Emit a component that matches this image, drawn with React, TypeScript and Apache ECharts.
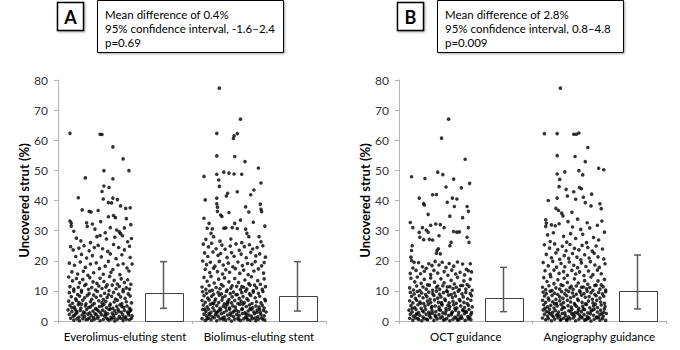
import React, { useEffect, useRef } from "react";
import * as echarts from "echarts";

// ---------- DATA ----------
const categoriesA = ["Everolimus-eluting stent", "Biolimus-eluting stent"];
const categoriesB = ["OCT guidance", "Angiography guidance"];
const yMin = 0;
const yMax = 80;
const yInterval = 10;
const yAxisTitle = "Uncovered strut (%)";

const statsA = ["Mean difference of 0.4%", "95% confidence interval, -1.6\u20132.4", "p=0.69"];
const statsB = ["Mean difference of 2.8%", "95% confidence interval, 0.8\u20134.8", "p=0.009"];

// bar value, error low, error high (per category)
const barA = [9.2, 8.4];
const errLowA = [4.2, 3.3];
const errHighA = [19.7, 19.7];
const barB = [7.7, 10.1];
const errLowB = [3.1, 4.0];
const errHighB = [17.8, 21.9];

// scatter points: [horizontal jitter fraction within the dot column, uncovered strut %]
const everolimusPts: [number, number][] = [
  [0.03,62.3],[0.50,62.0],[0.53,61.9],[0.70,57.8],[0.86,53.8],[0.56,49.9],[0.95,49.9],[0.70,47.2],[0.27,47.5],[0.56,44.8],[0.64,44.3],[0.53,43.0],[0.16,40.9],[0.55,40.5],[0.70,40.8],[0.77,40.3],[0.63,39.3],[0.68,39.2],[0.82,38.2],[0.90,37.4],[0.97,37.6],[0.22,36.9],[0.33,36.4],[0.36,36.2],[0.47,36.7],[0.63,34.6],[0.71,35.0],[0.74,34.3],[0.91,34.0],[0.03,33.2],[0.05,32.5],[0.05,31.5],[0.29,32.6],[0.30,31.4],[0.38,32.2],[0.51,33.0],[0.76,30.2],[0.80,29.6],[0.82,29.0],[0.98,32.0],[0.09,29.8],[0.42,30.5],[0.58,29.3],[0.66,31.0],[0.88,30.9],[0.13,27.5],[0.45,28.0],[0.50,28.4],[0.60,27.2],[0.73,27.8],[0.85,28.3],[0.99,27.4],[0.20,26.6],[0.35,26.0],[0.93,26.3],
  [0.04,24.7],[0.08,23.6],[0.17,24.2],[0.25,25.0],[0.33,23.3],[0.41,24.4],[0.47,25.1],[0.54,24.0],[0.62,23.1],[0.71,25.4],[0.79,24.4],[0.88,23.6],[0.96,24.8],[0.12,21.4],[0.21,22.1],[0.29,20.9],[0.38,21.7],[0.52,21.3],[0.66,22.3],[0.75,20.7],[0.84,22.0],[0.97,21.1],[0.02,19.2],[0.10,18.5],[0.19,19.6],[0.27,17.8],[0.35,18.9],[0.44,19.3],[0.49,17.4],[0.58,18.2],[0.63,19.8],[0.70,17.1],[0.78,18.6],[0.86,19.0],[0.92,17.6],[1.00,18.9],[0.06,16.3],[0.15,15.6],[0.24,16.5],[0.31,15.2],[0.40,16.0],[0.55,15.5],[0.67,16.2],[0.81,15.4],[0.95,16.6],
  [0.01,14.6],[0.07,13.3],[0.13,14.1],[0.18,12.7],[0.23,13.8],[0.28,12.2],[0.34,14.4],[0.39,13.0],[0.45,12.5],[0.50,14.2],[0.56,13.1],[0.61,12.0],[0.65,14.8],[0.72,13.5],[0.77,12.3],[0.83,14.0],[0.88,12.8],[0.93,13.7],[0.98,12.2],[0.03,11.4],[0.09,10.6],[0.16,11.2],[0.21,10.2],[0.26,11.8],[0.32,10.5],[0.37,11.1],[0.43,10.3],[0.48,11.6],[0.53,10.8],[0.59,11.3],[0.64,10.1],[0.69,11.9],[0.75,10.7],[0.80,11.5],[0.86,10.4],[0.91,11.0],[0.96,10.6],
  [0.02,9.4],[0.09,9.9],[0.15,8.8],[0.21,9.6],[0.33,9.1],[0.40,8.6],[0.46,9.8],[0.57,9.2],[0.63,8.7],[0.71,9.5],[0.79,8.9],[0.86,9.7],[0.94,9.0],
  [0.05,8.1],[0.12,7.4],[0.18,8.3],[0.26,7.7],[0.30,8.5],[0.37,7.2],[0.44,7.9],[0.51,8.4],[0.55,7.1],[0.61,7.8],[0.68,8.2],[0.74,7.3],[0.82,8.0],[0.89,7.5],[0.97,8.3],
  [0.01,6.6],[0.07,5.9],[0.13,6.8],[0.17,6.1],[0.23,6.9],[0.28,5.7],[0.35,6.4],[0.41,5.8],[0.48,6.7],[0.53,6.0],[0.59,6.5],[0.66,5.6],[0.72,6.3],[0.77,6.9],[0.84,5.8],[0.91,6.4],[0.99,6.0],
  [0.03,5.2],[0.10,4.6],[0.16,5.4],[0.20,4.3],[0.27,5.0],[0.32,4.5],[0.38,5.3],[0.43,4.1],[0.49,4.8],[0.56,5.5],[0.60,4.4],[0.65,5.1],[0.70,4.2],[0.76,4.9],[0.81,5.4],[0.87,4.5],[0.92,5.0],[0.96,4.2],
  [0.00,3.7],[0.06,3.1],[0.11,3.9],[0.14,2.8],[0.19,3.5],[0.24,3.0],[0.29,3.8],[0.34,2.7],[0.39,3.3],[0.45,3.9],[0.50,2.9],[0.54,3.6],[0.58,3.0],[0.64,3.8],[0.69,2.6],[0.73,3.4],[0.78,3.9],[0.83,2.9],[0.88,3.5],[0.93,3.0],[0.98,3.7],
  [0.02,2.2],[0.08,1.6],[0.12,2.4],[0.17,1.3],[0.22,2.0],[0.26,1.5],[0.31,2.3],[0.36,1.8],[0.42,2.5],[0.47,1.4],[0.52,2.1],[0.57,1.7],[0.62,2.4],[0.67,1.2],[0.71,1.9],[0.75,2.5],[0.80,1.5],[0.85,2.2],[0.90,1.4],[0.95,2.0],[1.00,1.7],
  [0.04,0.9],[0.09,0.3],[0.14,0.7],[0.18,0.1],[0.23,0.8],[0.28,0.4],[0.33,1.0],[0.37,0.2],[0.41,0.6],[0.46,0.9],[0.50,0.1],[0.55,0.5],[0.60,1.0],[0.64,0.3],[0.68,0.7],[0.73,0.0],[0.77,0.6],[0.82,0.9],[0.86,0.2],[0.91,0.6],[0.96,0.4],[0.99,0.9],
  [0.06,4.4],[0.13,3.3],[0.21,5.6],[0.26,2.7],[0.35,4.7],[0.40,1.2],[0.47,3.4],[0.53,5.0],[0.59,2.2],[0.66,4.0],[0.72,1.1],[0.79,3.2],[0.84,4.8],[0.94,2.6],[0.10,1.9],[0.31,0.6],[0.44,2.1],[0.62,0.6],[0.87,1.2],[0.97,3.3],
];

const biolimusPts: [number, number][] = [
  [0.27,77.3],[0.60,67.0],[0.23,62.3],[0.50,61.5],[0.55,62.2],[0.49,60.6],[0.23,54.8],[0.51,54.6],[0.67,52.9],[0.88,50.8],[0.03,48.0],[0.23,48.7],[0.34,49.4],[0.42,49.1],[0.50,48.8],[0.62,48.7],[0.26,46.8],[0.27,44.7],[0.40,42.4],[0.38,41.5],[0.92,45.8],[0.81,43.5],[0.76,41.9],[0.55,42.9],[0.05,40.2],[0.23,40.8],[0.23,38.9],[0.24,37.8],[0.24,36.4],[0.29,35.2],[0.31,34.7],[0.42,36.0],[0.68,37.9],[0.73,36.2],[0.91,38.8],[0.92,37.1],[0.93,36.3],[0.03,34.1],[0.11,32.4],[0.08,30.8],[0.16,30.6],[0.14,29.1],[0.18,28.0],[0.34,30.8],[0.37,30.9],[0.47,31.0],[0.51,32.4],[0.55,30.7],[0.68,30.5],[0.70,29.1],[0.73,28.0],[0.89,28.0],[0.92,26.3],[0.60,33.5],[0.80,32.8],[0.98,31.5],[0.45,27.2],[0.28,26.5],[0.62,26.0],[0.06,27.1],
  [0.02,25.5],[0.10,24.6],[0.15,25.8],[0.22,24.0],[0.31,25.2],[0.36,23.8],[0.44,24.9],[0.53,25.6],[0.58,23.5],[0.66,24.7],[0.74,25.3],[0.79,23.9],[0.86,24.4],[0.95,25.0],
  [0.04,22.6],[0.09,21.4],[0.17,22.9],[0.25,21.8],[0.29,22.4],[0.39,21.1],[0.46,22.7],[0.50,21.5],[0.61,22.2],[0.69,21.0],[0.76,22.8],[0.84,21.6],[0.90,22.3],[0.99,21.2],
  [0.01,19.9],[0.07,18.7],[0.13,19.5],[0.20,18.2],[0.27,19.8],[0.33,18.6],[0.41,19.2],[0.48,18.0],[0.56,19.6],[0.63,18.4],[0.71,19.1],[0.78,18.8],[0.83,19.7],[0.93,18.3],[0.97,19.4],
  [0.05,17.2],[0.12,16.1],[0.18,17.5],[0.24,16.4],[0.32,15.6],[0.37,17.0],[0.43,16.2],[0.52,17.4],[0.59,15.8],[0.65,16.9],[0.72,15.4],[0.81,16.6],[0.88,17.3],[0.96,15.9],
  [0.03,14.5],[0.08,13.2],[0.14,14.8],[0.19,12.6],[0.26,13.9],[0.30,12.1],[0.35,14.3],[0.42,13.0],[0.47,11.7],[0.51,14.1],[0.57,12.8],[0.62,11.4],[0.67,13.6],[0.73,12.4],[0.77,14.7],[0.82,11.9],[0.87,13.4],[0.91,12.2],[0.97,14.0],[0.00,11.3],[0.06,10.5],[0.11,11.8],[0.16,10.2],[0.22,11.1],[0.28,10.7],[0.33,11.6],[0.39,10.3],[0.45,10.9],[0.54,11.5],[0.60,10.4],[0.65,11.2],[0.70,10.6],[0.75,11.9],[0.80,10.1],[0.85,11.0],[0.94,10.5],[0.99,11.4],
  [0.01,9.7],[0.07,9.2],[0.12,9.9],[0.18,8.9],[0.25,9.5],[0.30,9.0],[0.38,9.8],[0.44,9.1],[0.49,9.6],[0.55,8.8],[0.62,9.4],[0.68,9.9],[0.74,9.0],[0.80,9.6],[0.88,9.2],[0.95,9.8],
  [0.03,8.4],[0.09,7.6],[0.15,8.2],[0.21,7.3],[0.27,8.6],[0.32,7.8],[0.36,8.3],[0.42,7.1],[0.47,8.0],[0.53,8.7],[0.58,7.5],[0.64,8.1],[0.70,7.4],[0.76,8.5],[0.83,7.7],[0.90,8.2],[0.98,7.2],
  [0.00,6.8],[0.05,6.2],[0.11,7.0],[0.16,5.9],[0.20,6.6],[0.26,6.1],[0.31,6.9],[0.35,5.7],[0.40,6.4],[0.46,6.0],[0.51,6.8],[0.56,5.8],[0.61,6.5],[0.66,6.1],[0.72,6.9],[0.78,5.8],[0.85,6.4],[0.92,6.0],[0.99,6.7],
  [0.02,5.3],[0.08,4.7],[0.13,5.5],[0.17,4.4],[0.23,5.1],[0.28,4.2],[0.33,4.9],[0.39,5.4],[0.43,4.3],[0.48,5.0],[0.52,4.6],[0.59,5.5],[0.63,4.1],[0.69,4.8],[0.74,5.3],[0.79,4.4],[0.84,5.0],[0.89,4.6],[0.94,5.2],[0.97,4.3],
  [0.01,3.8],[0.06,3.2],[0.10,3.9],[0.14,2.9],[0.19,3.5],[0.24,3.0],[0.29,3.7],[0.34,2.8],[0.38,3.4],[0.43,3.9],[0.48,2.9],[0.53,3.6],[0.57,3.1],[0.62,3.8],[0.67,2.7],[0.72,3.3],[0.77,3.8],[0.81,3.0],[0.86,3.6],[0.91,2.8],[0.96,3.5],[1.00,3.0],
  [0.03,2.3],[0.07,1.7],[0.11,2.5],[0.16,1.4],[0.21,2.1],[0.25,1.6],[0.30,2.4],[0.35,1.3],[0.40,2.0],[0.44,2.6],[0.49,1.5],[0.54,2.2],[0.58,1.8],[0.63,2.5],[0.68,1.3],[0.73,2.0],[0.77,1.6],[0.82,2.4],[0.87,1.4],[0.92,2.1],[0.97,1.7],
  [0.00,0.8],[0.05,0.2],[0.10,0.9],[0.14,0.4],[0.19,1.1],[0.23,0.1],[0.28,0.7],[0.32,1.0],[0.37,0.3],[0.42,0.8],[0.46,0.0],[0.51,0.6],[0.56,1.0],[0.60,0.2],[0.65,0.7],[0.70,1.1],[0.75,0.3],[0.79,0.8],[0.84,0.1],[0.88,0.6],[0.93,1.0],[0.98,0.3],
  [0.04,4.0],[0.12,2.0],[0.18,5.7],[0.26,3.4],[0.33,0.5],[0.37,4.5],[0.45,1.9],[0.50,3.3],[0.57,0.5],[0.64,5.6],[0.69,2.3],[0.75,4.1],[0.83,1.0],[0.90,3.8],[0.95,0.6],[0.08,0.7],[0.22,2.7],[0.40,6.0],[0.71,0.4],[0.86,2.9],
];

const octPts: [number, number][] = [
  [0.62,67.0],[0.51,60.7],[0.88,53.7],[0.04,47.9],[0.25,47.3],[0.45,49.4],[0.53,48.6],[0.70,47.1],[0.95,45.7],[0.82,44.2],[0.58,44.5],[0.16,40.8],[0.37,41.9],[0.43,42.0],[0.23,39.0],[0.24,38.5],[0.60,39.4],[0.68,40.8],[0.75,40.5],[0.71,38.0],[0.91,38.0],[0.93,36.4],[0.30,35.4],[0.84,34.3],[0.64,34.8],[0.02,32.7],[0.06,31.0],[0.21,31.0],[0.16,29.4],[0.17,27.8],[0.34,31.8],[0.42,32.2],[0.49,32.0],[0.55,31.0],[0.70,29.7],[0.75,29.5],[0.79,29.6],[0.93,31.0],[0.91,27.8],[0.94,26.1],[0.23,27.0],[0.32,27.1],[0.37,26.9],[0.47,28.3],[0.66,26.1],[0.64,25.0],[0.44,23.4],[0.49,22.3],[0.43,22.5],[0.46,24.0],[0.05,25.0],[0.04,23.4],[0.03,21.2],[0.04,20.1],[0.27,30.2],[0.30,29.5],
  [0.08,19.5],[0.15,19.4],[0.21,18.0],[0.27,17.5],[0.31,19.0],[0.36,18.4],[0.41,19.8],[0.47,18.6],[0.52,19.5],[0.58,17.8],[0.63,19.1],[0.70,18.2],[0.76,19.6],[0.84,18.9],[0.90,17.2],[0.96,19.0],[0.98,16.3],[0.11,16.8],[0.18,15.7],[0.24,16.5],[0.34,15.4],[0.39,16.8],[0.45,15.9],[0.55,16.4],[0.61,15.2],[0.67,16.9],[0.73,15.6],[0.80,16.2],[0.87,15.3],[0.93,16.7],[0.02,15.8],[0.06,17.6],
  [0.03,14.2],[0.09,13.0],[0.13,14.6],[0.19,12.5],[0.24,13.8],[0.29,12.0],[0.34,14.3],[0.40,12.9],[0.45,11.6],[0.50,14.0],[0.55,12.7],[0.60,11.3],[0.66,13.5],[0.71,12.3],[0.76,14.5],[0.81,11.8],[0.86,13.3],[0.91,12.1],[0.96,13.9],[0.01,11.0],[0.07,10.3],[0.12,11.6],[0.17,10.1],[0.22,11.3],[0.27,10.6],[0.32,11.9],[0.37,10.2],[0.43,11.1],[0.48,10.5],[0.53,11.7],[0.59,10.0],[0.64,11.4],[0.69,10.8],[0.74,11.2],[0.79,10.4],[0.84,11.8],[0.89,10.6],[0.94,11.5],[0.99,10.2],
  [0.02,9.5],[0.08,9.0],[0.13,9.8],[0.20,9.3],[0.26,8.8],[0.31,9.6],[0.37,9.1],[0.43,9.9],[0.48,8.9],[0.54,9.4],[0.60,9.7],[0.66,8.8],[0.71,9.3],[0.77,9.9],[0.83,9.0],[0.89,9.5],[0.96,9.1],
  [0.04,8.2],[0.10,7.5],[0.16,8.4],[0.22,7.7],[0.28,8.1],[0.33,7.2],[0.39,8.5],[0.45,7.6],[0.50,8.0],[0.56,7.3],[0.62,8.6],[0.68,7.8],[0.73,8.3],[0.79,7.1],[0.85,8.0],[0.92,7.4],[0.98,8.4],
  [0.01,6.7],[0.06,6.0],[0.12,6.9],[0.17,6.3],[0.23,5.8],[0.29,6.6],[0.34,6.1],[0.40,7.0],[0.46,6.2],[0.51,5.7],[0.57,6.8],[0.63,6.0],[0.69,6.5],[0.74,5.9],[0.80,6.7],[0.86,6.2],[0.91,5.8],[0.97,6.9],
  [0.03,5.1],[0.09,4.5],[0.14,5.4],[0.19,4.2],[0.25,4.9],[0.30,5.5],[0.35,4.4],[0.41,5.0],[0.47,4.6],[0.52,5.3],[0.58,4.1],[0.64,4.8],[0.70,5.4],[0.75,4.3],[0.81,5.0],[0.87,4.5],[0.93,5.2],[0.99,4.7],
  [0.00,3.6],[0.05,3.0],[0.11,3.8],[0.15,2.8],[0.21,3.4],[0.26,3.9],[0.31,2.9],[0.36,3.5],[0.42,3.1],[0.47,3.8],[0.53,2.7],[0.58,3.3],[0.63,3.9],[0.68,3.0],[0.73,3.6],[0.78,2.9],[0.84,3.7],[0.89,3.2],[0.94,3.8],[0.98,2.8],
  [0.02,2.3],[0.07,1.6],[0.12,2.5],[0.17,1.9],[0.22,1.3],[0.27,2.2],[0.32,1.7],[0.37,2.6],[0.42,1.5],[0.47,2.1],[0.52,1.4],[0.57,2.4],[0.62,1.8],[0.67,2.6],[0.72,1.3],[0.77,2.0],[0.82,1.6],[0.87,2.4],[0.92,1.5],[0.97,2.2],
  [0.01,0.9],[0.06,0.3],[0.10,1.0],[0.15,0.5],[0.20,0.1],[0.24,0.8],[0.29,0.4],[0.34,1.1],[0.39,0.2],[0.44,0.7],[0.49,1.0],[0.54,0.3],[0.59,0.8],[0.64,0.1],[0.69,0.6],[0.74,1.0],[0.78,0.4],[0.83,0.9],[0.88,0.2],[0.93,0.7],[0.97,0.4],
  [0.05,4.1],[0.11,2.0],[0.18,5.9],[0.23,3.0],[0.28,0.6],[0.36,4.8],[0.41,1.8],[0.49,3.6],[0.56,0.5],[0.61,5.2],[0.66,2.1],[0.72,4.2],[0.80,1.0],[0.85,3.4],[0.95,1.2],[0.14,0.8],[0.33,2.4],[0.51,6.1],[0.76,0.3],[0.90,2.9],
];

const angioPts: [number, number][] = [
  [0.28,77.3],[0.03,62.2],[0.23,62.2],[0.49,62.0],[0.53,62.0],[0.57,62.4],[0.71,57.6],[0.23,54.9],[0.51,54.6],[0.67,52.9],[0.88,50.7],[0.96,50.2],[0.57,49.9],[0.63,48.5],[0.23,48.8],[0.27,47.0],[0.35,49.5],[0.26,44.6],[0.37,43.7],[0.49,42.9],[0.58,44.3],[0.61,43.9],[0.77,42.1],[0.09,40.0],[0.23,40.8],[0.39,41.5],[0.52,40.4],[0.64,41.1],[0.67,39.3],[0.76,38.2],[0.90,38.9],[0.92,37.3],[0.21,37.4],[0.25,36.7],[0.30,35.8],[0.32,34.9],[0.46,36.1],[0.05,33.6],[0.06,32.5],[0.05,31.4],[0.14,31.9],[0.20,31.6],[0.26,32.3],[0.40,33.0],[0.47,31.2],[0.55,33.8],[0.60,30.4],[0.70,32.6],[0.74,30.9],[0.86,31.8],[0.93,33.2],[0.08,28.6],[0.17,29.3],[0.33,28.1],[0.44,29.0],[0.52,27.4],[0.63,28.8],[0.80,27.7],[0.97,29.5],[0.12,26.4],[0.38,26.2],[0.69,26.0],[0.88,26.9],
  [0.03,25.3],[0.11,24.2],[0.19,25.6],[0.24,23.7],[0.31,24.8],[0.37,23.3],[0.43,25.4],[0.50,24.1],[0.57,23.6],[0.62,25.1],[0.71,24.4],[0.78,23.2],[0.84,24.9],[0.94,23.9],
  [0.06,22.1],[0.14,21.0],[0.21,22.6],[0.27,20.5],[0.34,21.7],[0.41,20.8],[0.47,22.4],[0.54,21.2],[0.60,20.3],[0.66,22.0],[0.73,20.9],[0.81,22.5],[0.87,21.3],[0.96,20.6],
  [0.01,19.4],[0.09,18.3],[0.16,19.8],[0.22,17.9],[0.29,19.1],[0.35,18.0],[0.42,19.6],[0.49,18.5],[0.55,17.7],[0.61,19.3],[0.68,18.1],[0.75,19.7],[0.82,18.6],[0.89,17.8],[0.98,19.0],
  [0.04,16.7],[0.12,15.5],[0.18,16.9],[0.26,15.8],[0.33,16.4],[0.39,15.2],[0.46,16.8],[0.52,15.6],[0.58,16.3],[0.65,15.1],[0.72,16.6],[0.79,15.4],[0.86,16.9],[0.92,15.7],
  [0.02,14.4],[0.07,13.1],[0.13,14.7],[0.18,12.4],[0.24,13.7],[0.29,12.0],[0.34,14.2],[0.39,12.8],[0.45,11.5],[0.50,14.0],[0.56,12.6],[0.61,11.2],[0.66,13.4],[0.71,12.2],[0.76,14.6],[0.82,11.8],[0.87,13.3],[0.92,12.0],[0.97,13.8],[0.00,11.2],[0.05,10.4],[0.10,11.7],[0.15,10.1],[0.21,11.0],[0.27,10.6],[0.32,11.8],[0.37,10.3],[0.43,11.0],[0.48,10.5],[0.53,11.6],[0.58,10.0],[0.64,11.3],[0.69,10.7],[0.74,11.1],[0.79,10.2],[0.84,11.9],[0.90,10.6],[0.95,11.4],[0.99,10.3],
  [0.01,9.6],[0.06,9.1],[0.12,9.9],[0.19,9.2],[0.24,8.8],[0.30,9.7],[0.35,9.0],[0.41,9.8],[0.47,9.3],[0.53,8.9],[0.59,9.6],[0.65,9.1],[0.70,9.9],[0.76,9.4],[0.82,8.8],[0.88,9.5],[0.94,9.0],[0.99,9.7],
  [0.03,8.3],[0.09,7.6],[0.15,8.5],[0.21,7.2],[0.27,8.0],[0.32,7.5],[0.38,8.4],[0.44,7.7],[0.49,8.2],[0.55,7.3],[0.61,8.6],[0.67,7.9],[0.73,8.1],[0.78,7.2],[0.84,8.4],[0.90,7.6],[0.96,8.2],
  [0.00,6.9],[0.05,6.2],[0.10,7.0],[0.16,6.4],[0.22,5.9],[0.27,6.7],[0.33,6.1],[0.39,6.9],[0.44,6.3],[0.50,5.8],[0.56,6.8],[0.62,6.2],[0.67,5.7],[0.72,6.6],[0.79,6.0],[0.85,6.9],[0.91,6.3],[0.97,5.9],
  [0.02,5.4],[0.08,4.7],[0.13,5.2],[0.18,4.3],[0.23,5.0],[0.29,5.5],[0.34,4.4],[0.40,5.1],[0.45,4.6],[0.51,5.3],[0.57,4.2],[0.63,4.9],[0.69,5.5],[0.74,4.4],[0.80,5.0],[0.86,4.5],[0.92,5.3],[0.98,4.8],
  [0.01,3.7],[0.06,3.1],[0.11,3.9],[0.16,2.9],[0.20,3.5],[0.25,3.0],[0.30,3.8],[0.35,2.7],[0.41,3.4],[0.46,3.9],[0.51,2.8],[0.56,3.5],[0.61,3.1],[0.66,3.8],[0.71,2.7],[0.76,3.3],[0.81,3.9],[0.86,3.0],[0.91,3.6],[0.96,2.9],
  [0.03,2.2],[0.08,1.6],[0.12,2.4],[0.17,1.4],[0.22,2.0],[0.27,1.6],[0.31,2.5],[0.36,1.8],[0.41,1.3],[0.46,2.3],[0.50,1.7],[0.55,2.6],[0.60,1.4],[0.65,2.1],[0.70,1.5],[0.75,2.4],[0.80,1.9],[0.85,1.3],[0.90,2.2],[0.95,1.6],[1.00,2.5],
  [0.00,1.0],[0.05,0.4],[0.09,0.8],[0.14,0.1],[0.19,0.6],[0.24,1.1],[0.28,0.3],[0.33,0.9],[0.38,0.2],[0.43,0.7],[0.48,1.0],[0.52,0.1],[0.57,0.6],[0.62,1.1],[0.66,0.3],[0.71,0.8],[0.76,0.0],[0.81,0.6],[0.85,1.0],[0.90,0.3],[0.94,0.8],[0.99,0.2],
  [0.04,4.2],[0.10,2.9],[0.19,5.7],[0.24,2.3],[0.32,4.6],[0.38,0.6],[0.44,3.2],[0.53,4.9],[0.58,2.0],[0.64,4.0],[0.73,1.0],[0.78,3.6],[0.83,5.6],[0.93,2.5],[0.15,1.9],[0.29,0.5],[0.48,2.4],[0.68,0.5],[0.88,1.3],[0.97,4.0],
];

// ---------- LAYOUT / STYLE ----------
const FONT = "Lato, 'Open Sans', sans-serif";
const AXIS_GRAY = "#b3b3b3";
const COL_START = 0.075; // dot column start within a category (category width = 1)
const COL_WIDTH = 0.478; // dot column width
const BAR_CENTER = 0.78; // bar centre within a category

function toScatter(points: [number, number][], cat: number) {
  return points.map(([f, v]) => [cat + COL_START + f * COL_WIDTH, v]);
}

function barData(vals: number[], lo: number[], hi: number[]) {
  return vals.map((v, i) => [i + BAR_CENTER, v, lo[i], hi[i]]);
}

const renderBar = (params: any, api: any) => {
  const x = api.value(0);
  const m = api.value(1);
  const lo = api.value(2);
  const hi = api.value(3);
  const p0 = api.coord([x, 0]);
  const pm = api.coord([x, m]);
  const pl = api.coord([x, lo]);
  const ph = api.coord([x, hi]);
  const w = 38;
  const cx = Math.round(p0[0]) + 0.5;
  const cap = 3.5;
  return {
    type: "group",
    children: [
      {
        type: "rect",
        shape: { x: Math.round(cx - w / 2) + 0.5, y: Math.round(pm[1]) + 0.5, width: w, height: Math.round(p0[1]) - Math.round(pm[1]) },
        style: { fill: "#ffffff", stroke: "#404040", lineWidth: 1 },
      },
      { type: "line", shape: { x1: cx, y1: ph[1], x2: cx, y2: pl[1] }, style: { stroke: "#595959", lineWidth: 1.5 } },
      { type: "line", shape: { x1: cx - cap, y1: ph[1], x2: cx + cap, y2: ph[1] }, style: { stroke: "#595959", lineWidth: 1.5 } },
      { type: "line", shape: { x1: cx - cap, y1: pl[1], x2: cx + cap, y2: pl[1] }, style: { stroke: "#595959", lineWidth: 1.5 } },
    ],
  };
};

function catAxis(gridIndex: number, data: string[]) {
  return {
    gridIndex,
    type: "category",
    data,
    boundaryGap: true,
    axisLine: { show: true, lineStyle: { color: AXIS_GRAY, width: 1 } },
    axisTick: { show: true, length: 3, lineStyle: { color: AXIS_GRAY } },
    axisLabel: { interval: 0, margin: 9, fontSize: 11.5, color: "#000", fontFamily: FONT },
    splitLine: { show: false },
  };
}

function valXAxis(gridIndex: number) {
  return { gridIndex, type: "value", min: 0, max: 2, show: false };
}

function yAx(gridIndex: number) {
  return {
    gridIndex,
    type: "value",
    min: yMin,
    max: yMax,
    interval: yInterval,
    name: yAxisTitle,
    nameLocation: "middle",
    nameGap: 24,
    nameTextStyle: { fontWeight: "bold", fontSize: 13, color: "#000", fontFamily: FONT },
    axisLine: { show: true, lineStyle: { color: AXIS_GRAY, width: 1 } },
    axisTick: { show: true, length: 4, lineStyle: { color: AXIS_GRAY } },
    axisLabel: { margin: 10, fontSize: 12, color: "#333", fontFamily: FONT },
    splitLine: { show: false },
  };
}

function panelGraphics(offsetX: number, letter: string, lines: string[]) {
  return [
    {
      type: "rect",
      shape: { x: offsetX + 57.5, y: 2.5, width: 26, height: 28 },
      style: { fill: "#fff", stroke: "#000", lineWidth: 1.5, shadowBlur: 2, shadowOffsetX: 1, shadowOffsetY: 1, shadowColor: "rgba(0,0,0,0.35)" },
    },
    {
      type: "text",
      x: offsetX + 70.5,
      y: 17,
      style: { text: letter, fontSize: 18, fontWeight: "bold", fontFamily: FONT, fill: "#000", align: "center", verticalAlign: "middle" },
    },
    {
      type: "rect",
      shape: { x: offsetX + 97.5, y: 0.5, width: 186, height: 52 },
      style: { fill: "#fff", stroke: "#000", lineWidth: 1, shadowBlur: 2, shadowOffsetX: 1, shadowOffsetY: 1, shadowColor: "rgba(0,0,0,0.35)" },
    },
    {
      type: "text",
      x: offsetX + 105,
      y: 7,
      style: { text: lines.join("\n"), fontSize: 11.5, lineHeight: 14, fontFamily: FONT, fill: "#000", align: "left", verticalAlign: "top" },
    },
  ];
}

const dotStyle = { color: "#000" };

export default function App() {
  const ref = useRef<HTMLDivElement>(null);
  useEffect(() => {
    if (!ref.current) return;
    const chart = echarts.init(ref.current, undefined, { renderer: "svg" });
    chart.setOption({
      animation: false,
      backgroundColor: "#ffffff",
      textStyle: { fontFamily: FONT },
      grid: [
        { left: 58, right: 354, top: 80, bottom: 29 },
        { left: 399, right: 14, top: 80, bottom: 29 },
      ],
      xAxis: [catAxis(0, categoriesA), valXAxis(0), catAxis(1, categoriesB), valXAxis(1)],
      yAxis: [yAx(0), yAx(1)],
      graphic: [...panelGraphics(0, "A", statsA), ...panelGraphics(340, "B", statsB)],
      series: [
        { type: "scatter", xAxisIndex: 1, yAxisIndex: 0, symbolSize: 3.6, itemStyle: dotStyle, data: toScatter(everolimusPts, 0) },
        { type: "scatter", xAxisIndex: 1, yAxisIndex: 0, symbolSize: 3.6, itemStyle: dotStyle, data: toScatter(biolimusPts, 1) },
        { type: "scatter", xAxisIndex: 3, yAxisIndex: 1, symbolSize: 3.6, itemStyle: dotStyle, data: toScatter(octPts, 0) },
        { type: "scatter", xAxisIndex: 3, yAxisIndex: 1, symbolSize: 3.6, itemStyle: dotStyle, data: toScatter(angioPts, 1) },
        { type: "custom", xAxisIndex: 1, yAxisIndex: 0, renderItem: renderBar, encode: { x: 0, y: 1 }, data: barData(barA, errLowA, errHighA) },
        { type: "custom", xAxisIndex: 3, yAxisIndex: 1, renderItem: renderBar, encode: { x: 0, y: 1 }, data: barData(barB, errLowB, errHighB) },
      ],
    });
    return () => chart.dispose();
  }, []);
  return <div ref={ref} style={{ position: "fixed", left: 0, top: 0, width: 680, height: 350 }} />;
}
